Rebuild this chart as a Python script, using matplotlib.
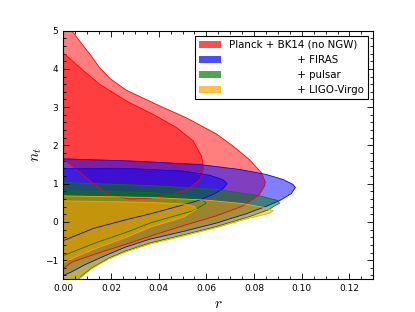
import matplotlib
matplotlib.use('Agg')
import matplotlib.pyplot as plt
from matplotlib.patches import Patch

# contour boundaries (r, n_t), 95% and 68% regions
red95_r = [0.0, 0.0035, 0.0084, 0.0112, 0.0150, 0.0195, 0.0265, 0.0405, 0.0516, 0.0642, 0.0712,
           0.0780, 0.0830, 0.0847, 0.0844, 0.0823, 0.0754, 0.0642, 0.0502, 0.0390, 0.0274, 0.0134,
           0.0036, 0.0008, 0.0]
red95_nt = [5.4, 5.0, 4.6, 4.38, 4.05, 3.75, 3.44, 3.03, 2.72, 2.30, 1.98,
            1.63, 1.29, 1.05, 0.94, 0.72, 0.42, 0.16, -0.10, -0.32, -0.56, -0.84,
            -1.05, -1.18, -1.23]
red68_r = [0.0, 0.0007, 0.0070, 0.0154, 0.0265, 0.0377, 0.0474, 0.0544, 0.0579, 0.0589, 0.0575,
           0.0530, 0.0460, 0.0363, 0.0280, 0.0195, 0.0126, 0.0070, 0.0]
red68_nt = [4.40, 4.38, 4.03, 3.59, 3.16, 2.81, 2.47, 2.12, 1.73, 1.40, 1.12,
            0.88, 0.72, 0.62, 0.60, 0.70, 1.00, 1.30, 1.63]

blue95_r = [0.0, 0.0293, 0.0572, 0.0740, 0.0851, 0.0921, 0.0963, 0.0973, 0.0956, 0.0914, 0.0860,
            0.0770, 0.0642, 0.0502, 0.0363, 0.0260, 0.0176, 0.0090, 0.0030, 0.0]
blue95_nt = [1.65, 1.59, 1.50, 1.37, 1.24, 1.11, 0.98, 0.90, 0.74, 0.58, 0.43,
             0.22, -0.03, -0.25, -0.45, -0.66, -0.88, -1.12, -1.32, -1.40]
blue68_r = [0.0, 0.0293, 0.0502, 0.0614, 0.0670, 0.0687, 0.0670, 0.0628, 0.0572, 0.0488, 0.0377,
            0.0265, 0.0126, 0.0]
blue68_nt = [1.39, 1.39, 1.33, 1.22, 1.10, 1.00, 0.87, 0.72, 0.57, 0.42, 0.23,
             0.06, -0.17, -0.49]

green95_r = [0.0, 0.0363, 0.0642, 0.0823, 0.0900, 0.0907, 0.0880, 0.0865, 0.0781, 0.0642, 0.0502,
             0.0363, 0.0260, 0.0190, 0.0120, 0.0075, 0.0055, 0.0]
green95_nt = [1.03, 0.95, 0.85, 0.68, 0.56, 0.49, 0.40, 0.33, 0.14, -0.12, -0.34,
              -0.55, -0.76, -0.95, -1.20, -1.42, -1.60, -1.80]
green68_r = [0.0, 0.0363, 0.0516, 0.0579, 0.0597, 0.0597, 0.0544, 0.0447, 0.0363, 0.0274, 0.0134, 0.0]
green68_nt = [0.81, 0.77, 0.68, 0.59, 0.51, 0.48, 0.29, 0.12, -0.03, -0.25, -0.55, -0.88]

yellow95_r = [0.0, 0.0363, 0.0600, 0.0750, 0.0840, 0.0880, 0.0860, 0.0781, 0.0642, 0.0502, 0.0363,
              0.0260, 0.0190, 0.0120, 0.0070, 0.0050, 0.0]
yellow95_nt = [0.68, 0.64, 0.57, 0.48, 0.38, 0.29, 0.22, 0.10, -0.15, -0.37, -0.58,
               -0.79, -0.97, -1.22, -1.47, -1.60, -1.80]
yellow68_r = [0.0, 0.0363, 0.0502, 0.0550, 0.0558, 0.0540, 0.0502, 0.0363, 0.0274, 0.0134, 0.0050, 0.0]
yellow68_nt = [0.55, 0.51, 0.47, 0.40, 0.33, 0.26, 0.12, -0.14, -0.38, -0.70, -0.92, -1.07]

pad = ' ' * 21
labels = ['Planck + BK14 (no NGW)', pad + '+ FIRAS', pad + '+ pulsar', pad + '+ LIGO-Virgo']
colors = ['red', 'blue', 'green', 'orange']

plt.rcParams['mathtext.fontset'] = 'cm'

fig = plt.figure(figsize=(4.15, 3.12), dpi=100)
ax = fig.add_axes([0.1526, 0.1048, 0.747, 0.797])

sets = [(red95_r, red95_nt, red68_r, red68_nt),
        (blue95_r, blue95_nt, blue68_r, blue68_nt),
        (green95_r, green95_nt, green68_r, green68_nt),
        (yellow95_r, yellow95_nt, yellow68_r, yellow68_nt)]

for (r95, n95, r68, n68), c in zip(sets, colors):
    ax.fill(r95, n95, color=c, alpha=0.5, lw=0)
    ax.fill(r68, n68, color=c, alpha=0.5, lw=0)
    ax.plot(r95, n95, color=c, lw=0.6)
    ax.plot(r68, n68, color=c, lw=0.6)

ax.set_xlim(0, 0.13)
ax.set_ylim(-1.5, 5)
ax.set_xticks([0.00, 0.02, 0.04, 0.06, 0.08, 0.10, 0.12])
ax.set_yticks([-1, 0, 1, 2, 3, 4, 5])
ax.set_xticks([i * 0.005 for i in range(27)], minor=True)
ax.set_yticks([-1.4 + i * 0.2 for i in range(32)], minor=True)
ax.tick_params(which='both', direction='in', top=True, right=True, labelsize=6.5, width=0.6)
ax.tick_params(which='major', length=4)
ax.tick_params(which='minor', length=2)
for s in ax.spines.values():
    s.set_linewidth(0.8)

ax.set_xlabel('$r$', fontsize=11, labelpad=2)
ax.set_ylabel('$n_t$', fontsize=11, labelpad=1)

handles = [Patch(facecolor=c, alpha=0.7, edgecolor='none') for c in colors]
leg = ax.legend(handles, labels, loc='upper right', fontsize=7.4, fancybox=False,
                framealpha=1, edgecolor='black', handlelength=2.1)
leg.get_frame().set_linewidth(0.8)

fig.savefig('out.png', dpi=100)
